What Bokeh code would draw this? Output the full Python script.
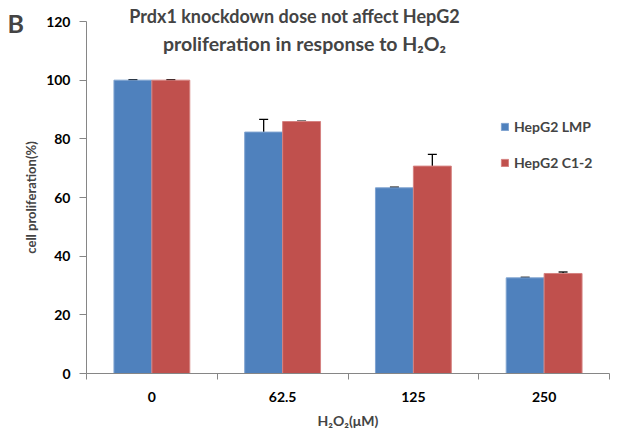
from bokeh.plotting import figure
from bokeh.models import (Range1d, FixedTicker, ColumnDataSource, Whisker, TeeHead,
                          Label, Legend, LegendItem)
from bokeh.embed import file_html
from bokeh.resources import INLINE

categories = ["0", "62.5", "125", "250"]
lmp_values = [100.0, 82.3, 63.3, 32.6]
lmp_errors = [0.2, 4.3, 0.2, 0.2]
c12_values = [100.0, 85.9, 70.7, 34.1]
c12_errors = [0.2, 0.1, 4.0, 0.5]
y_ticks = [0, 20, 40, 60, 80, 100, 120]

FONT = "Lato"
BLUE = "#4F81BD"
RED = "#C0504D"

W, H = 632, 435
# plot area in canvas pixels
AX_L, AX_R, AX_T, AX_B = 86, 609, 21, 373
ncat = len(categories)
xs = (AX_R - AX_L) / ncat
ys = (AX_B - AX_T) / 120.0
x_range = Range1d(-AX_L / xs, ncat + (W - AX_R) / xs)
y_range = Range1d(-(H - AX_B) / ys, 120 + AX_T / ys)

p = figure(width=W, height=H, output_backend="svg", toolbar_location=None,
           x_range=x_range, y_range=y_range,
           min_border=0, min_border_left=0, min_border_right=0,
           min_border_top=0, min_border_bottom=0)
p.outline_line_color = None
p.xgrid.visible = False
p.ygrid.visible = False

idx = list(range(ncat))
bw = 0.29
src = ColumnDataSource(dict(
    xb=[i + 0.5 - bw / 2 for i in idx],
    xr=[i + 0.5 + bw / 2 for i in idx],
    lmp=lmp_values, c12=c12_values,
    lmp_lo=[v - e for v, e in zip(lmp_values, lmp_errors)],
    lmp_hi=[v + e for v, e in zip(lmp_values, lmp_errors)],
    c12_lo=[v - e for v, e in zip(c12_values, c12_errors)],
    c12_hi=[v + e for v, e in zip(c12_values, c12_errors)],
))

rb = p.vbar(x="xb", top="lmp", width=bw, source=src, fill_color=BLUE,
            line_color="#7FA3D0", line_width=1)
rr = p.vbar(x="xr", top="c12", width=bw, source=src, fill_color=RED,
            line_color="#D58280", line_width=1)

for base, lo, hi in [("xb", "lmp_lo", "lmp_hi"), ("xr", "c12_lo", "c12_hi")]:
    w = Whisker(base=base, lower=lo, upper=hi, source=src, line_color="black", line_width=1.3,
                upper_head=TeeHead(size=9, line_color="black", line_width=1.3),
                lower_head=TeeHead(size=9, line_color="black", line_width=1.3))
    p.add_layout(w)

# x axis
xa = p.xaxis[0]
xa.fixed_location = 0
xa.bounds = (0, ncat)
xa.ticker = FixedTicker(ticks=[i + 0.5 for i in idx], minor_ticks=list(range(ncat + 1)))
xa.major_label_overrides = {i + 0.5: c for i, c in zip(idx, categories)}
xa.major_tick_out = 0
xa.major_tick_in = 0
xa.minor_tick_out = 6
xa.minor_tick_in = 0
xa.minor_tick_line_color = "#868686"
xa.axis_line_color = "#868686"
xa.major_label_standoff = 12
xa.major_label_text_font = FONT
xa.major_label_text_font_style = "bold"
xa.major_label_text_font_size = "14px"
xa.major_label_text_color = "black"
xa.axis_label = "H\u2082O\u2082(\u03bcM)"
xa.axis_label_text_font = FONT
xa.axis_label_text_font_style = "bold"
xa.axis_label_text_font_size = "14px"
xa.axis_label_standoff = 7

# y axis
ya = p.yaxis[0]
ya.fixed_location = 0
ya.bounds = (0, 120)
ya.ticker = FixedTicker(ticks=y_ticks, minor_ticks=[])
ya.major_tick_out = 7
ya.major_tick_in = 0
ya.major_tick_line_color = "#868686"
ya.axis_line_color = "#868686"
ya.major_label_standoff = 9
ya.major_label_text_font = FONT
ya.major_label_text_font_style = "bold"
ya.major_label_text_font_size = "14px"
ya.major_label_text_color = "black"
ya.axis_label = "cell proliferation(%)"
ya.axis_label_text_font = FONT
ya.axis_label_text_font_style = "bold"
ya.axis_label_text_font_size = "13px"
ya.axis_label_standoff = 4

# legend
legend = Legend(items=[LegendItem(label="HepG2 LMP", renderers=[rb]),
                       LegendItem(label="HepG2 C1-2", renderers=[rr])],
                location=(500, 264), glyph_width=9, glyph_height=9, label_height=14,
                spacing=19, padding=0, margin=0, label_standoff=5,
                border_line_color=None, background_fill_alpha=0,
                label_text_font=FONT, label_text_font_style="bold",
                label_text_font_size="14px")
p.add_layout(legend)

# title and panel letter
t1 = Label(x=294, y=H - 15, x_units="screen", y_units="screen",
           text="Prdx1 knockdown dose not affect HepG2", text_align="center",
           text_baseline="middle", text_font=FONT, text_font_style="bold", text_font_size="18px")
t2 = Label(x=304, y=H - 43, x_units="screen", y_units="screen",
           text="proliferation in response to H\u2082O\u2082", text_align="center",
           text_baseline="middle", text_font=FONT, text_font_style="bold", text_font_size="19.5px")
bl = Label(x=7, y=H - 22, x_units="screen", y_units="screen", text="B",
           text_align="left", text_baseline="middle", text_font=FONT,
           text_font_style="bold", text_font_size="25px")
for l in (t1, t2, bl):
    p.add_layout(l)

open("out.html", "w").write(file_html(p, INLINE))
